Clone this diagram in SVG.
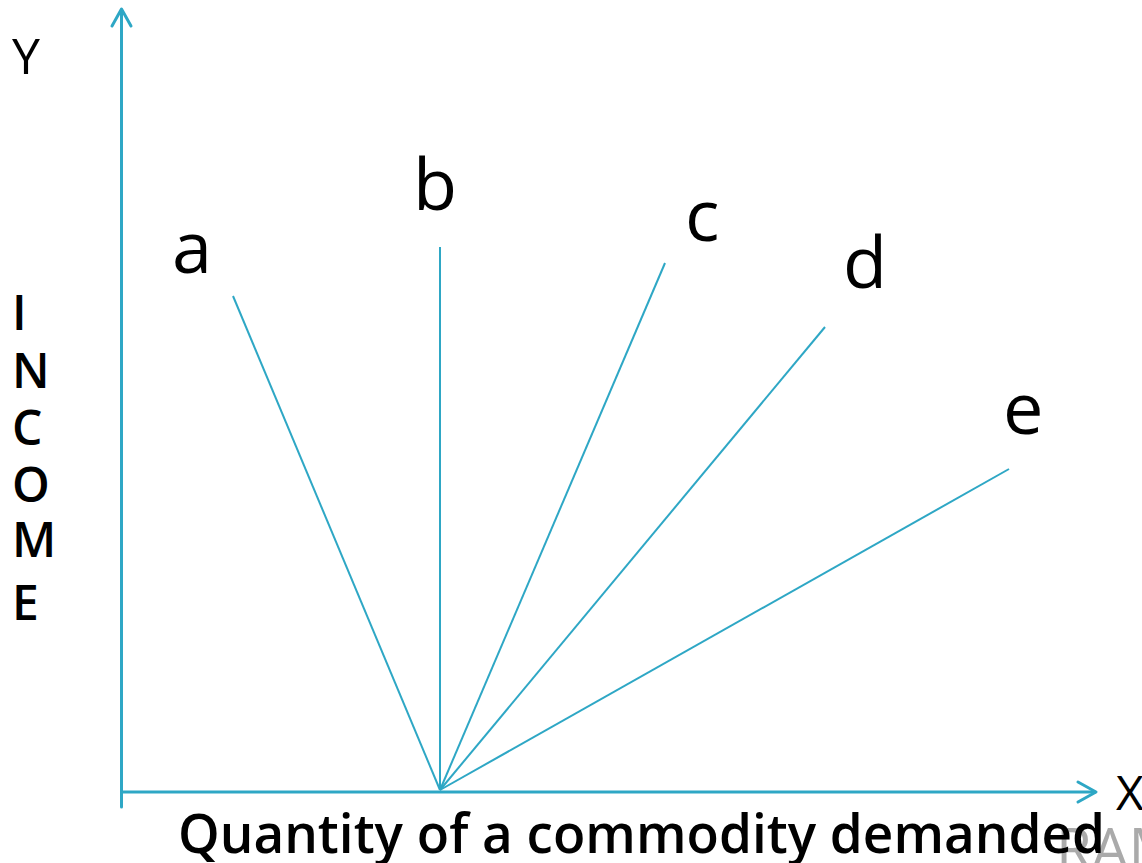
<svg xmlns="http://www.w3.org/2000/svg" width="1142" height="863" viewBox="0 0 1142 863">
<style>
.ax{stroke:#2ea7c5;stroke-width:3;fill:none;stroke-linecap:round;stroke-linejoin:round}
.ln{stroke:#2ea7c5;stroke-width:2;fill:none}
.lab{font-family:"Open Sans","DejaVu Sans",sans-serif;font-size:72px;fill:#000}
.ttl{font-family:"Open Sans","DejaVu Sans",sans-serif;fill:#000}
</style>
<rect width="1142" height="863" fill="#fff"/>
<g id="watermark"><text x="1056" y="870" font-family="Open Sans, sans-serif" font-size="58" fill="#aaaaaa">RAM</text></g>
<g id="axes">
<line class="ax" x1="121.5" y1="10" x2="121.5" y2="807"/>
<polyline class="ax" points="112,26 121.5,9 131,26"/>
<line class="ax" x1="121.5" y1="792" x2="1095" y2="792"/>
<polyline class="ax" points="1078,782 1096,792 1078,802"/>
</g>
<g id="connectors">
<line class="ln" x1="440" y1="790" x2="233" y2="296"/>
<line class="ln" x1="440" y1="790" x2="440" y2="247"/>
<line class="ln" x1="440" y1="790" x2="665" y2="263"/>
<line class="ln" x1="440" y1="790" x2="825" y2="327"/>
<line class="ln" x1="440" y1="790" x2="1009" y2="469"/>
</g>
<g id="node-a"><text class="lab" x="172" y="273">a</text></g>
<g id="node-b"><text class="lab" x="413" y="210">b</text></g>
<g id="node-c"><text class="lab" x="685" y="241">c</text></g>
<g id="node-d"><text class="lab" x="843" y="288">d</text></g>
<g id="node-e"><text class="lab" x="1003" y="434">e</text></g>
<g id="y-label"><text class="ttl" x="12" y="74" font-size="50">Y</text></g>
<g id="income-label" class="ttl" font-size="48" font-weight="600">
<text x="12" y="330">I</text>
<text x="12" y="388">N</text>
<text x="12" y="445">C</text>
<text x="12" y="502">O</text>
<text x="12" y="557">M</text>
<text x="12" y="620">E</text>
</g>
<g id="x-label"><text class="ttl" x="1116" y="810" font-size="48">X</text></g>
<g id="x-title"><text class="ttl" x="178" y="853" font-size="55" font-weight="600" textLength="927" lengthAdjust="spacingAndGlyphs">Quantity of a commodity demanded</text></g>
</svg>
